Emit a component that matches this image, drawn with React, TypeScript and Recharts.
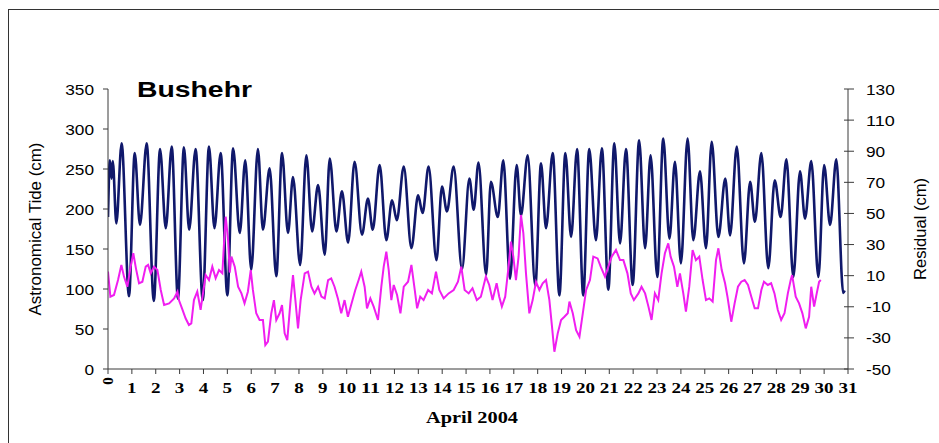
import React from "react";
import { LineChart, Line, XAxis, YAxis } from "recharts";

// Astronomical tide (cm) – turning points (day of April 2004)
const tideDays = [
  0, 0.08, 0.15, 0.2, 0.35, 0.57, 0.88, 1.12, 1.34, 1.62, 1.92, 2.18, 2.42, 2.67, 2.93, 3.18, 3.4, 3.67, 3.97,
  4.23, 4.46, 4.72, 5.0, 5.24, 5.52, 5.75, 6.0, 6.28, 6.49, 6.77, 7.05, 7.29, 7.54, 7.75, 8.05, 8.31, 8.55, 8.8,
  9.08, 9.29, 9.57, 9.8, 10.06, 10.33, 10.64, 10.89, 11.09, 11.38, 11.66, 11.9, 12.1, 12.39, 12.71, 12.99, 13.18,
  13.43, 13.76, 13.99, 14.2, 14.48, 14.83, 15.14, 15.32, 15.52, 15.84, 16.04, 16.33, 16.56, 16.84, 17.12, 17.3,
  17.58, 17.9, 18.14, 18.35, 18.63, 18.91, 19.16, 19.4, 19.65, 19.91, 20.16, 20.44, 20.69, 20.96, 21.21, 21.45,
  21.7, 21.98, 22.25, 22.5, 22.73, 23.01, 23.26, 23.52, 23.75, 24.0, 24.28, 24.52, 24.8, 25.05, 25.29, 25.57,
  25.86, 26.06, 26.34, 26.64, 26.9, 27.1, 27.37, 27.66, 27.93, 28.18, 28.42, 28.71, 28.99, 29.2, 29.46, 29.76,
  30.0, 30.25, 30.51, 30.8, 30.86,
];
const tideValues = [
  190, 261, 238, 260, 182, 282, 91, 270, 180, 282, 85, 275, 176, 278, 88, 277, 174, 275, 86,
  278, 176, 270, 92, 276, 170, 261, 124, 275, 174, 251, 116, 270, 170, 240, 130, 267, 172, 230,
  143, 263, 172, 222, 158, 259, 168, 213, 174, 255, 161, 211, 186, 253, 151, 217, 195,
  253, 136, 228, 197, 253, 125, 238, 199, 258, 118, 234, 190, 261, 113, 255, 192,
  267, 104, 257, 176, 270, 92, 270, 165, 275, 92, 275, 161, 276, 99, 282, 157,
  275, 105, 286, 151, 267, 115, 288, 163, 259, 132, 288, 161, 247, 151, 284, 165,
  238, 167, 278, 132, 234, 184, 270, 126, 236, 190, 262, 115, 247, 188, 260, 115,
  255, 180, 262, 95, 98,
];

// Residual (cm)
const residualDays = [
  0, 0.1, 0.25, 0.42, 0.56, 0.67, 0.81, 0.95, 1.06, 1.17, 1.3, 1.44, 1.58, 1.68, 1.79, 1.93, 2.07, 2.21, 2.35,
  2.56, 2.77, 2.91, 2.97, 3.1, 3.25, 3.39, 3.49, 3.6, 3.74, 3.88, 3.99, 4.09, 4.23, 4.37, 4.51, 4.65, 4.79,
  4.86, 4.93, 5.03, 5.1, 5.17, 5.31, 5.45, 5.59, 5.72, 5.86, 5.98, 6.07, 6.21, 6.35, 6.49, 6.59, 6.7, 6.84,
  6.95, 7.05, 7.19, 7.29, 7.4, 7.51, 7.65, 7.75, 7.85, 7.96, 8.07, 8.24, 8.38, 8.52, 8.65, 8.8, 8.94, 9.08,
  9.22, 9.35, 9.49, 9.63, 9.77, 9.91, 10.05, 10.2, 10.36, 10.5, 10.61, 10.75, 10.85, 10.99, 11.13, 11.31,
  11.45, 11.55, 11.66, 11.76, 11.87, 11.97, 12.11, 12.25, 12.39, 12.57, 12.71, 12.85, 12.95, 13.08, 13.22,
  13.41, 13.57, 13.74, 13.88, 14.06, 14.27, 14.48, 14.66, 14.8, 14.94, 15.11, 15.27, 15.45, 15.62, 15.83,
  15.97, 16.11, 16.28, 16.39, 16.5, 16.64, 16.78, 16.88, 16.98, 17.09, 17.2, 17.3, 17.4, 17.51, 17.65, 17.79,
  17.93, 18.07, 18.21, 18.35, 18.49, 18.6, 18.7, 18.84, 18.98, 19.12, 19.26, 19.33, 19.47, 19.61, 19.75,
  19.89, 20.03, 20.19, 20.33, 20.51, 20.64, 20.82, 20.96, 21.1, 21.28, 21.45, 21.59, 21.76, 21.9, 22.03,
  22.22, 22.35, 22.5, 22.64, 22.77, 22.91, 23.05, 23.19, 23.33, 23.47, 23.57, 23.71, 23.85, 23.96, 24.1,
  24.21, 24.35, 24.49, 24.63, 24.77, 24.91, 25.05, 25.19, 25.33, 25.47, 25.57, 25.71, 25.85, 25.95, 26.11,
  26.25, 26.39, 26.53, 26.67, 26.81, 26.95, 27.09, 27.23, 27.37, 27.48, 27.64, 27.78, 27.92, 28.06, 28.2,
  28.34, 28.48, 28.6, 28.66, 28.81, 28.95, 29.09, 29.23, 29.37, 29.46, 29.58, 29.69, 29.79, 29.86,
];
const residualValues = [
  12.6, -3.5, -2.4, 7.2, 16.9, 9.4, 2.9, 15.8, 24.4, 14.7, 5.1, 6.1, 15.8, 16.9, 11.5, 15.8, 13.6, 0.8, -8.9,
  -7.8, -4.6, -0.3, -5.7, -11, -17.4, -21.7, -20.7, -5.7, -0.3, -12, -0.3, 10.4, 7.2, 15.8, 8.3, 13.6, 11.5,
  30.8, 47.9, 32.9, 12, 22.2, 15.8, 2.9, -1.4, -7.8, -0.3, 13.6, 0.8, -14.2, -18.5, -18.5, -34.6, -32.4, -14.2,
  -5.7, -18.5, -14.2, -8.9, -27.1, -31.4, -5.7, 10.4, -5.7, -23.9, -5.7, 11.5, 12.6, 2.9, -1.4, 2.9, -3.5, -4.6,
  7.2, 8.3, 2.9, -4.6, -14.2, -5.7, -16.4, -8, 0.8, 7.2, 12.6, 2.9, -11, -4.6, -9.9, -18.5,
  2.9, 15.8, 25.4, 13.6, -5.7, 4, -2.4, -14.2, 2.9, 6.1, 16.9, 0.8, -11, -3.5, -5.7,
  0.8, -1.4, 12.6, 0.8, -4.6, -1.4, 0.8, 6.1, 15.8, 0.8, -1.4, 1.9, -5.7, -3.5, 9.4,
  4, -5.7, 5.1, -3.5, -9.9, -3.5, 15.8, 31.9, 22.2, 7.2, 22.2, 49, 37.2, 11.5, -14.2, -5.7,
  6.1, 0.8, 5.1, 7.2, -5.7, -22.8, -38.9, -27.1, -18.5, -16.4, -14.2, -6.7, -14.2, -25, -29.2,
  -14.2, 0.8, 7.2, 22.2, 21.1, 15.8, 9.4, 15.8, 22.2, 26.5, 20, 20, 11.5, -1.4, -5.7,
  -1.4, 2.9, -1.4, -9.9, -18.5, -1.4, -5.7, 11.5, 24.4, 30.8, 22.2, 15.8, 2.9, 11.5, -1.4,
  -13.1, 2.9, 26.5, 20, 22.2, 7.2, -5.7, -4.6, -6.7, 20, 27.6, 13.6, 5.1, -3.5, -19.6,
  -7.8, 2.9, 6.1, 7.2, 4, -3.5, -11, -11, 0.8, 6.1, 4, 5.1, -1.4, -12.1, -18.5,
  -14.2, -1.4, 7.2, 10.4, -3.5, -7.8, -14.2, -23.9, -16.4, 2.9, -9.9, -1.4, 6.1, 7.2,
];

const dayTicks = Array.from({ length: 32 }, (_, i) => i);
const tideTicks = [0, 50, 100, 150, 200, 250, 300, 350];
const residualTicks = [-50, -30, -10, 10, 30, 50, 70, 90, 110, 130];

const tideData = tideDays.map((d, i) => ({ day: d, tide: tideValues[i] }));
const residualData = residualDays.map((d, i) => ({ day: d, residual: residualValues[i] }));

const SANS = "Arial, 'Liberation Sans', sans-serif";
const SERIF = "'Times New Roman', 'Liberation Serif', serif";
const AXIS = "#3a3a3a";

const arialWidth = (s: string) =>
  s.split("").reduce((w, c) => w + (c === "-" ? 0.333 : 0.556), 0);

const LeftTick = (props: any) => {
  const { y, payload } = props;
  const s = String(payload.value);
  return (
    <text x={94} y={y} dy={5.5} textAnchor="end" fontFamily={SANS} fontSize={15} fill="#000"
      textLength={arialWidth(s) * 15 * 1.15} lengthAdjust="spacingAndGlyphs">{s}</text>
  );
};

const RightTick = (props: any) => {
  const { y, payload } = props;
  const s = String(payload.value);
  return (
    <g>
      <line x1={844} x2={854} y1={y} y2={y} stroke={AXIS} strokeWidth={1} />
      <text x={866} y={y} dy={5.5} textAnchor="start" fontFamily={SANS} fontSize={15} fill="#000"
        textLength={arialWidth(s) * 15 * 1.15} lengthAdjust="spacingAndGlyphs">{s}</text>
    </g>
  );
};

const BottomTick = (props: any) => {
  const { x, payload } = props;
  const v = payload.value;
  if (v === 0) {
    return (
      <text x={x} y={381} transform={`rotate(-90 ${x} 381)`} textAnchor="middle" dominantBaseline="central"
        fontFamily={SERIF} fontWeight="bold" fontSize={15} fill="#000">0</text>
    );
  }
  const s = String(v);
  return (
    <text x={x} y={393} textAnchor="middle" fontFamily={SERIF} fontWeight="bold" fontSize={15} fill="#000"
      textLength={s.length * 9.5} lengthAdjust="spacingAndGlyphs">{s}</text>
  );
};

export default function App() {
  return (
    <div style={{ position: "absolute", left: 0, top: 0, width: 939, height: 443, background: "#fff" }}>
      <LineChart width={939} height={443} margin={{ top: 89, right: 0, bottom: 44, left: 0 }}>
        <XAxis
          dataKey="day"
          type="number"
          domain={[0, 31]}
          ticks={dayTicks}
          interval={0}
          allowDataOverflow
          stroke={AXIS}
          tickSize={5}
          height={30}
          tick={<BottomTick />}
        />
        <YAxis
          yAxisId="left"
          orientation="left"
          domain={[0, 350]}
          ticks={tideTicks}
          interval={0}
          width={108}
          stroke={AXIS}
          tickSize={5}
          tick={<LeftTick />}
        />
        <YAxis
          yAxisId="right"
          orientation="right"
          domain={[-50, 130]}
          ticks={residualTicks}
          interval={0}
          width={91}
          stroke={AXIS}
          tickLine={false}
          tick={<RightTick />}
        />
        <Line
          yAxisId="left"
          data={tideData}
          dataKey="tide"
          type="monotone"
          stroke="#10186b"
          strokeWidth={2.6}
          dot={false}
          activeDot={false}
          isAnimationActive={false}
        />
        <Line
          yAxisId="right"
          data={residualData}
          dataKey="residual"
          type="linear"
          stroke="#f01ef0"
          strokeWidth={2}
          dot={false}
          activeDot={false}
          isAnimationActive={false}
        />
      </LineChart>
      <svg width={939} height={443} style={{ position: "absolute", left: 0, top: 0, pointerEvents: "none" }}>
        <line x1={8} y1={9.5} x2={939} y2={9.5} stroke="#333" strokeWidth={1} />
        <line x1={8.5} y1={9} x2={8.5} y2={443} stroke="#333" strokeWidth={1} />
        <text x={137} y={97} fontFamily={SANS} fontWeight="bold" fontSize={22} fill="#000"
          textLength={115} lengthAdjust="spacingAndGlyphs">Bushehr</text>
        <text x={0} y={0} transform="translate(41 229) rotate(-90)" textAnchor="middle"
          fontFamily={SANS} fontSize={16} fill="#000" textLength={173} lengthAdjust="spacingAndGlyphs">
          Astronomical Tide (cm)
        </text>
        <text x={0} y={0} transform="translate(926 229) rotate(-90)" textAnchor="middle"
          fontFamily={SANS} fontSize={16} fill="#000" textLength={102} lengthAdjust="spacingAndGlyphs">
          Residual (cm)
        </text>
        <text x={472} y={423} textAnchor="middle" fontFamily={SERIF} fontWeight="bold" fontSize={16} fill="#000"
          textLength={92} lengthAdjust="spacingAndGlyphs">April 2004</text>
      </svg>
    </div>
  );
}
